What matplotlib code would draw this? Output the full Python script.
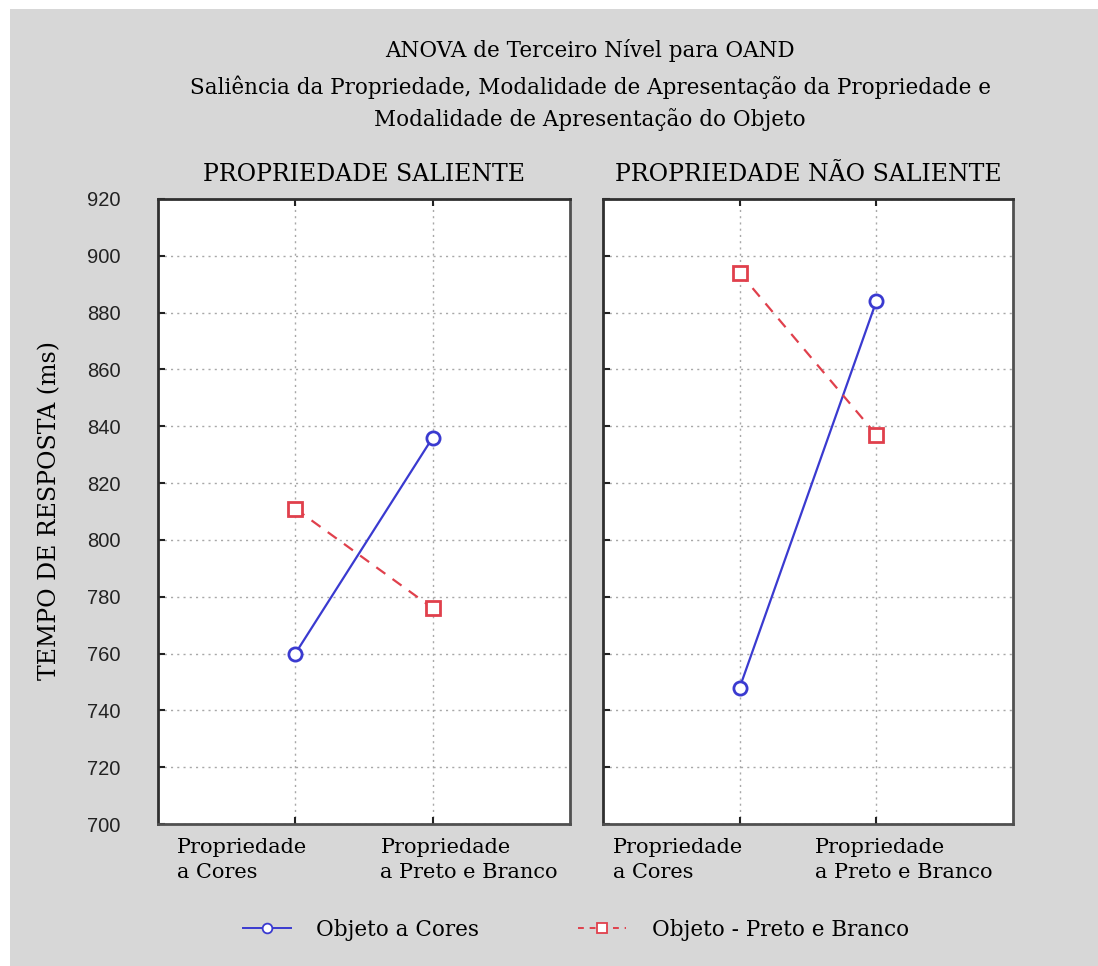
import matplotlib
matplotlib.use("Agg")
import matplotlib.pyplot as plt
from matplotlib.lines import Line2D
from matplotlib.patches import Rectangle

# dados
condicoes = ["Propriedade\na Cores", "Propriedade\na Preto e Branco"]
paineis = ["PROPRIEDADE SALIENTE", "PROPRIEDADE NÃO SALIENTE"]
obj_cores = [[760, 836], [748, 884]]
obj_pb = [[811, 776], [894, 837]]
yticks = list(range(700, 921, 20))

titulo = ["ANOVA de Terceiro Nível para OAND",
          "Saliência da Propriedade, Modalidade de Apresentação da Propriedade e",
          "Modalidade de Apresentação do Objeto"]

AZUL = "#3a3ad0"
VERMELHO = "#e0404c"
FUNDO = "#d7d7d7"
SERIF = "DejaVu Serif"

fig = plt.figure(figsize=(10.98, 9.66), dpi=100)
fig.patch.set_facecolor("white")
fig.patches.append(Rectangle((10 / 1098, 0), 1, 1 - 9 / 966, transform=fig.transFigure,
                             facecolor=FUNDO, edgecolor="none", zorder=-10))

W, H = 1098, 966
posicoes = [(158, 570), (603, 1013)]
topo, base = 199, 824
# deslocamento dos rotulos das categorias (alinhados a esquerda)
desloc = [[0.86, 0.38], [0.925, 0.45]]

axes = []
for k, (x0, x1) in enumerate(posicoes):
    ax = fig.add_axes([x0 / W, 1 - base / H, (x1 - x0) / W, (base - topo) / H])
    ax.set_facecolor("white")
    xs = range(len(condicoes))
    l1, = ax.plot(xs, obj_cores[k], color=AZUL, lw=1.6, marker="o", ms=9.5,
                  mfc="white", mec=AZUL, mew=2, zorder=3)
    l2, = ax.plot(xs, obj_pb[k], color=VERMELHO, lw=1.6, ls=(0, (5, 4)), marker="s", ms=9.5,
                  mfc="white", mec=VERMELHO, mew=2, zorder=3)
    ax.set_xlim(-1, 2)
    ax.set_ylim(700, 920)
    ax.set_yticks(yticks)
    ax.set_xticks(list(xs))
    ax.set_xticklabels([])
    ax.grid(True, color="#a8a8a8", ls=(0, (1.5, 3)), lw=1)
    ax.tick_params(axis="both", direction="in", length=5, width=1.5, color="#222222",
                   top=True, right=False)
    ax.tick_params(axis="y", pad=27, labelsize=14.5, labelcolor="#222222")
    for lab in ax.get_yticklabels():
        lab.set_fontfamily("Liberation Sans")
    if k == 1:
        ax.set_yticklabels([])
    for s in ax.spines.values():
        s.set_color("#505050")
        s.set_linewidth(2)
    ax.spines["left"].set_color("#303030")
    ax.spines["top"].set_color("#303030")
    ax.set_title(paineis[k], fontsize=17, family=SERIF, pad=13)
    for i, txt in enumerate(condicoes):
        ax.text(i - desloc[k][i], -0.022, txt, transform=ax.get_xaxis_transform(),
                ha="left", va="top", fontsize=15, family=SERIF, linespacing=1.45)
    axes.append(ax)

fig.text(50 / W, 1 - 510 / H, "TEMPO DE RESPOSTA (ms)", rotation=90, ha="center",
         va="center", fontsize=17, family=SERIF)

for i, (t, y) in enumerate(zip(titulo, [50, 87, 120])):
    fig.text(590 / W, 1 - y / H, t, ha="center", va="center", fontsize=15.5, family=SERIF)

h1 = Line2D([], [], color=AZUL, lw=1.4, marker="o", ms=7, mfc="white", mec=AZUL, mew=1.3)
h2 = Line2D([], [], color=VERMELHO, lw=1.4, ls=(0, (3, 3)), marker="s", ms=7,
            mfc="white", mec=VERMELHO, mew=1.3)
fig.legend([h1, h2], ["Objeto a Cores", "Objeto - Preto e Branco"], loc="center",
           bbox_to_anchor=(576 / W, 1 - 930 / H), ncol=2, frameon=False,
           prop={"family": SERIF, "size": 15.5}, handlelength=2.2, columnspacing=4.6,
           handletextpad=1.2)

fig.savefig("out.png", dpi=100, facecolor=fig.get_facecolor())
